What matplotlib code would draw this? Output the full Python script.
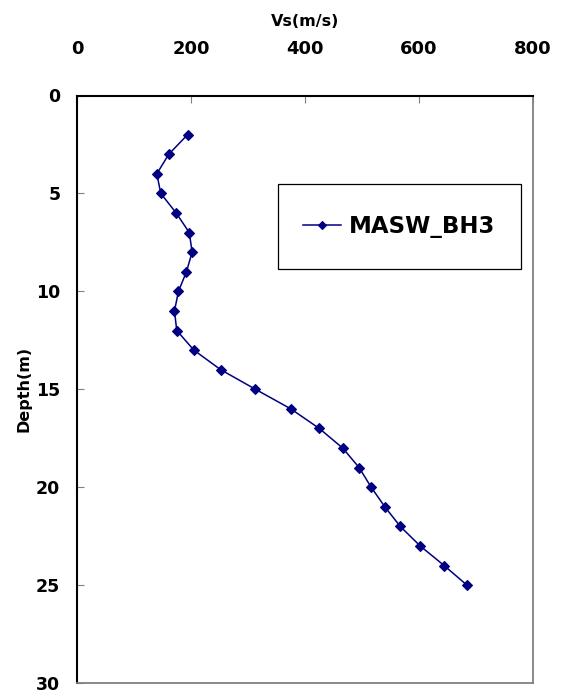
#!/usr/bin/env python3
"""
Shear-wave velocity profile (MASW) against depth.
"""
import matplotlib
matplotlib.use('Agg')
import matplotlib.pyplot as plt
from matplotlib.patches import Rectangle

# Values
depth = [2, 3, 4, 5, 6, 7, 8, 9, 10, 11, 12, 13,
         14, 15, 16, 17, 18, 19, 20, 21, 22, 23, 24, 25]
vs = [194, 161, 140, 147, 174, 197, 202, 192, 178, 171, 175, 205,
      252, 313, 375, 425, 466, 495, 516, 540, 567, 602, 644, 684]
series_name = 'MASW_BH3'
x_ticks = [0, 200, 400, 600, 800]
y_ticks = [0, 5, 10, 15, 20, 25, 30]

navy = '#000080'
plt.rcParams['font.family'] = ['DejaVu Sans']
plt.rcParams['font.weight'] = 'bold'

fig = plt.figure(figsize=(5.66, 6.93), dpi=100)
# plot box: x 77..533 px, y 95.5..683 px
ax = fig.add_axes([77 / 566, 1 - 683 / 693, 456 / 566, 587.5 / 693])

ax.plot(vs, depth, color=navy, lw=1.1, marker='D', ms=4.6,
        mfc=navy, mec=navy, mew=0.8, label=series_name)

ax.set_xlim(0, 800)
ax.set_ylim(30, 0)
ax.set_xticks(x_ticks)
ax.set_yticks(y_ticks)

ax.xaxis.tick_top()
ax.xaxis.set_label_position('top')
ax.tick_params(axis='x', direction='in', length=5, width=0.8, color='#808080',
               pad=27, labelsize=13)
ax.tick_params(axis='y', direction='in', length=5, width=0.8, color='#808080',
               pad=12, labelsize=12.5)
for lab in ax.get_xticklabels() + ax.get_yticklabels():
    lab.set_fontweight('bold')

ax.set_xlabel('Vs(m/s)', fontsize=11.5, fontweight='bold', labelpad=10)
ax.set_ylabel('Depth(m)', fontsize=11.5, fontweight='bold')
ax.yaxis.set_label_coords(-0.099, 0.5)

for side in ('left', 'top'):
    ax.spines[side].set_color('black')
    ax.spines[side].set_linewidth(1.5)
for side in ('right', 'bottom'):
    ax.spines[side].set_color('#808080')
    ax.spines[side].set_linewidth(1.3)

# legend frame drawn by hand so its padding matches the reference
ax.add_patch(Rectangle((0.441, 0.7045), 0.532, 0.1455, transform=ax.transAxes,
                       facecolor='white', edgecolor='black', lw=0.9, zorder=4))
leg = ax.legend(loc='center', bbox_to_anchor=(0.707, 0.777), frameon=False,
                prop={'size': 16.5, 'weight': 'bold'}, handlelength=1.65,
                handletextpad=0.35, markerscale=0.8)
leg.set_zorder(5)

fig.savefig('out.png', dpi=100)
